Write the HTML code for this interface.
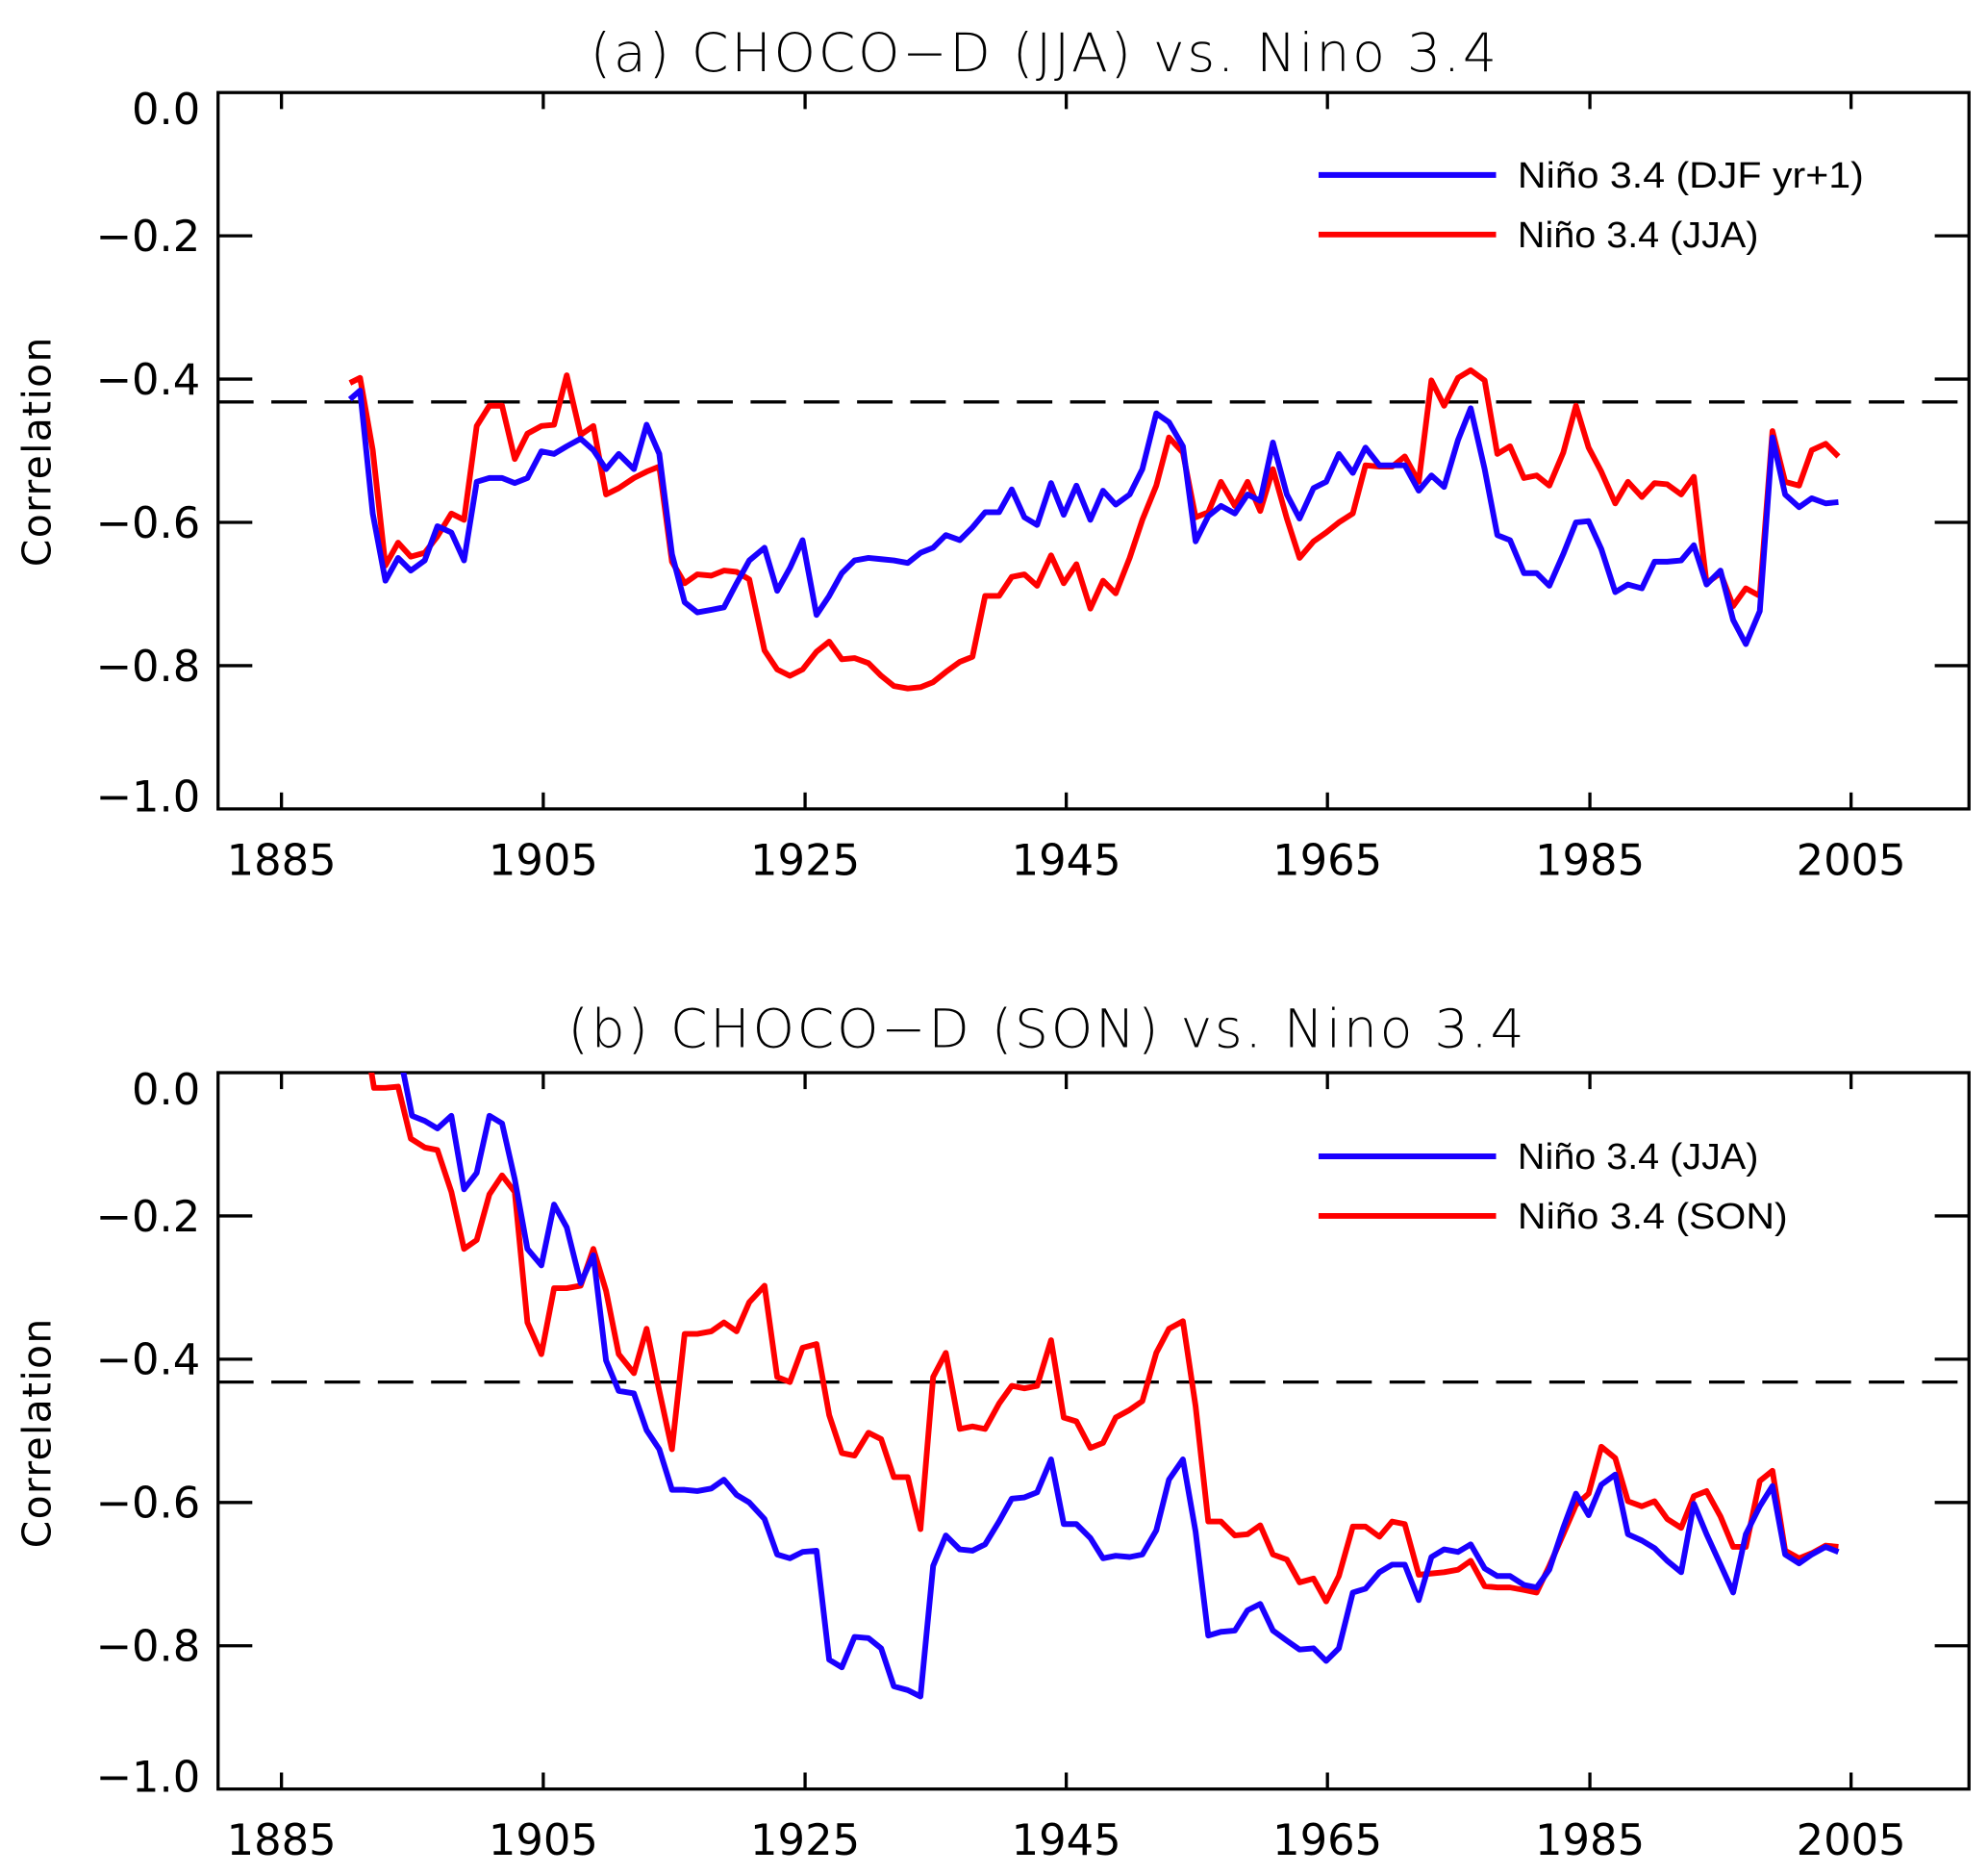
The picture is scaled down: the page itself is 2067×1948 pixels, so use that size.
<!DOCTYPE html>
<html><head><meta charset="utf-8"><style>
html,body{margin:0;padding:0;background:#fff;}
svg{display:block;}
text{font-family:"DejaVu Sans","Liberation Sans",sans-serif;fill:#000;}
.leg{font-family:"Liberation Sans","DejaVu Sans",sans-serif;}
</style></head><body>
<svg width="2067" height="1948" viewBox="0 0 1568 1478" preserveAspectRatio="none" xmlns="http://www.w3.org/2000/svg">
<defs>
<clipPath id="ca"><rect x="172" y="73" width="1381" height="565"/></clipPath>
<clipPath id="cb"><rect x="172" y="846" width="1381" height="565"/></clipPath>
</defs>
<rect width="1568" height="1478" fill="#fff"/>

<!-- Panel a -->
<text x="824" y="56" font-size="42" text-anchor="middle" font-weight="300" letter-spacing="2">(a) CHOCO−D (JJA) vs. Nino 3.4</text>
<g stroke="#000" stroke-width="2.5" fill="none">
<rect x="172" y="73" width="1381" height="565"/>
<path d="M222,73v13M428.5,73v13M635,73v13M841,73v13M1047,73v13M1254,73v13M1460,73v13
M222,638v-13M428.5,638v-13M635,638v-13M841,638v-13M1047,638v-13M1254,638v-13M1460,638v-13
M172,186h27M172,299h27M172,412h27M172,525h27
M1553,186h-27M1553,299h-27M1553,412h-27M1553,525h-27"/>
</g>
<line x1="172" y1="317" x2="1553" y2="317" stroke="#000" stroke-width="2.5" stroke-dasharray="28,14"/>
<g font-size="34" text-anchor="end">
<text x="158" y="98">0.0</text><text x="158" y="198">−0.2</text><text x="158" y="311">−0.4</text>
<text x="158" y="424">−0.6</text><text x="158" y="537">−0.8</text><text x="158" y="640">−1.0</text>
</g>
<g font-size="34" text-anchor="middle">
<text x="222" y="690">1885</text><text x="428.5" y="690">1905</text><text x="635" y="690">1925</text>
<text x="841" y="690">1945</text><text x="1047" y="690">1965</text><text x="1254" y="690">1985</text><text x="1460" y="690">2005</text>
</g>
<text transform="translate(40,356) rotate(-90)" font-size="31" text-anchor="middle" letter-spacing="1">Correlation</text>
<g clip-path="url(#ca)" fill="none" stroke-width="4.5" stroke-linejoin="round">
<polyline stroke="#ff0000" points="276,302 284,298 294,355 304,446 314,428 324,439 335,436 345,423 356,405 366,410 376,336 386,320 396,320 406,362 416,342 427,336 437,335 447,296 458,343 468,336 478,390 488,385 500,377 510,372 520,368 530,443 540,460 550,453 561,454 571,450 581,451 591,457 603,513 613,528 623,533 633,528 644,514 654,506 664,520 674,519 685,523 695,533 705,541 716,543 726,542 736,538 746,530 757,522 767,518 777,470 788,470 798,455 808,453 818,462 829,438 839,460 849,445 860,480 870,458 880,468 891,440 901,410 912,383 922,345 933,357 943,408 953,404 963,380 974,399 984,380 994,403 1004,370 1015,409 1025,440 1036,427 1046,420 1056,412 1067,405 1077,367 1088,368 1098,368 1108,360 1119,380 1129,300 1139,320 1150,298 1160,292 1171,300 1181,358 1191,352 1202,377 1212,375 1222,383 1233,357 1243,320 1253,353 1263,372 1274,397 1284,380 1295,392 1305,381 1315,382 1326,390 1336,376 1346,460 1357,452 1367,478 1377,464 1388,470 1398,340 1408,380 1419,383 1429,355 1440,350 1450,360"/>
<polyline stroke="#1a00ff" points="276,315 284,308 294,405 304,458 314,440 324,450 335,442 345,415 356,420 366,442 376,380 386,377 396,377 406,381 416,377 427,356 437,358 447,352 458,346 468,355 478,370 488,358 500,370 510,335 520,358 530,437 540,475 550,483 561,481 571,479 581,460 591,442 603,432 613,466 623,448 633,426 644,485 654,470 664,452 674,442 685,440 695,441 705,442 716,444 726,436 736,432 746,422 757,426 767,416 777,404 788,404 798,386 808,408 818,414 829,381 839,406 849,383 860,410 870,387 880,398 891,390 901,370 912,326 922,333 933,352 943,427 953,407 963,399 974,405 984,390 994,395 1004,349 1015,390 1025,409 1036,385 1046,380 1056,358 1067,373 1077,353 1088,367 1098,367 1108,367 1119,387 1129,375 1139,384 1150,347 1160,322 1171,370 1181,422 1191,426 1202,452 1212,452 1222,462 1233,437 1243,412 1253,411 1263,433 1274,467 1284,461 1295,464 1305,443 1315,443 1326,442 1336,430 1346,461 1357,450 1367,489 1377,508 1388,482 1398,345 1408,390 1419,400 1429,393 1440,397 1450,396"/>
</g>
<line x1="1040" y1="138" x2="1180" y2="138" stroke="#1a00ff" stroke-width="4.5"/>
<line x1="1040" y1="185" x2="1180" y2="185" stroke="#ff0000" stroke-width="4.5"/>
<text class="leg" x="1197" y="148" font-size="29" textLength="273" lengthAdjust="spacingAndGlyphs">Niño 3.4 (DJF yr+1)</text>
<text class="leg" x="1197" y="195" font-size="29" textLength="190" lengthAdjust="spacingAndGlyphs">Niño 3.4 (JJA)</text>

<!-- Panel b -->
<text x="826" y="826" font-size="42" text-anchor="middle" font-weight="300" letter-spacing="2">(b) CHOCO−D (SON) vs. Nino 3.4</text>
<g stroke="#000" stroke-width="2.5" fill="none">
<rect x="172" y="846" width="1381" height="565"/>
<path d="M222,846v13M428.5,846v13M635,846v13M841,846v13M1047,846v13M1254,846v13M1460,846v13
M222,1411v-13M428.5,1411v-13M635,1411v-13M841,1411v-13M1047,1411v-13M1254,1411v-13M1460,1411v-13
M172,959h27M172,1072h27M172,1185h27M172,1298h27
M1553,959h-27M1553,1072h-27M1553,1185h-27M1553,1298h-27"/>
</g>
<line x1="172" y1="1090" x2="1553" y2="1090" stroke="#000" stroke-width="2.5" stroke-dasharray="28,14"/>
<g font-size="34" text-anchor="end">
<text x="158" y="871">0.0</text><text x="158" y="971">−0.2</text><text x="158" y="1084">−0.4</text>
<text x="158" y="1197">−0.6</text><text x="158" y="1310">−0.8</text><text x="158" y="1413">−1.0</text>
</g>
<g font-size="34" text-anchor="middle">
<text x="222" y="1463">1885</text><text x="428.5" y="1463">1905</text><text x="635" y="1463">1925</text>
<text x="841" y="1463">1945</text><text x="1047" y="1463">1965</text><text x="1254" y="1463">1985</text><text x="1460" y="1463">2005</text>
</g>
<text transform="translate(40,1130) rotate(-90)" font-size="31" text-anchor="middle" letter-spacing="1">Correlation</text>
<g clip-path="url(#cb)" fill="none" stroke-width="4.5" stroke-linejoin="round">
<polyline stroke="#ff0000" points="292,840 295,858 304,858 314,857 324,898 335,905 345,907 356,940 366,985 376,978 386,942 396,927 406,940 416,1043 427,1068 437,1016 447,1016 458,1014 468,985 478,1018 488,1068 500,1083 510,1048 520,1097 530,1143 540,1052 550,1052 561,1050 571,1043 581,1050 591,1027 603,1014 613,1086 623,1090 633,1063 644,1060 654,1116 664,1146 674,1148 685,1130 695,1135 705,1165 716,1165 726,1206 736,1086 746,1067 757,1127 767,1125 777,1127 788,1107 798,1093 808,1095 818,1093 829,1057 839,1118 849,1121 860,1142 870,1138 880,1118 891,1112 901,1105 912,1067 922,1048 933,1042 943,1109 953,1200 963,1200 974,1211 984,1210 994,1203 1004,1226 1015,1230 1025,1248 1036,1245 1046,1263 1056,1243 1067,1204 1077,1204 1088,1212 1098,1200 1108,1202 1119,1242 1129,1241 1139,1240 1150,1238 1160,1231 1171,1251 1181,1252 1191,1252 1202,1254 1212,1256 1222,1235 1233,1210 1243,1187 1253,1178 1263,1141 1274,1150 1284,1184 1295,1188 1305,1184 1315,1198 1326,1205 1336,1180 1346,1176 1357,1196 1367,1220 1377,1220 1388,1168 1398,1160 1408,1223 1419,1229 1429,1225 1440,1219 1450,1220"/>
<polyline stroke="#1a00ff" points="308,830 318,845 325,880 335,884 345,890 356,880 366,938 376,925 386,880 396,886 406,930 416,985 427,998 437,950 447,968 458,1012 468,990 478,1073 488,1097 500,1099 510,1128 520,1143 530,1175 540,1175 550,1176 561,1174 571,1167 581,1179 591,1185 603,1198 613,1226 623,1229 633,1224 644,1223 654,1309 664,1315 674,1291 685,1292 695,1300 705,1330 716,1333 726,1338 736,1235 746,1211 757,1222 767,1223 777,1218 788,1200 798,1182 808,1181 818,1177 829,1151 839,1202 849,1202 860,1213 870,1229 880,1227 891,1228 901,1226 912,1207 922,1167 933,1151 943,1208 953,1290 963,1287 974,1286 984,1270 994,1265 1004,1286 1015,1294 1025,1301 1036,1300 1046,1310 1056,1300 1067,1256 1077,1253 1088,1240 1098,1234 1108,1234 1119,1262 1129,1228 1139,1222 1150,1224 1160,1218 1171,1237 1181,1243 1191,1243 1202,1250 1212,1252 1222,1238 1233,1205 1243,1178 1253,1195 1263,1171 1274,1163 1284,1210 1295,1215 1305,1221 1315,1231 1326,1240 1336,1186 1346,1210 1357,1234 1367,1256 1377,1210 1388,1188 1398,1172 1408,1226 1419,1233 1429,1226 1440,1220 1450,1224"/>
</g>
<line x1="1040" y1="912" x2="1180" y2="912" stroke="#1a00ff" stroke-width="4.5"/>
<line x1="1040" y1="959" x2="1180" y2="959" stroke="#ff0000" stroke-width="4.5"/>
<text class="leg" x="1197" y="922" font-size="29" textLength="190" lengthAdjust="spacingAndGlyphs">Niño 3.4 (JJA)</text>
<text class="leg" x="1197" y="969" font-size="29" textLength="213" lengthAdjust="spacingAndGlyphs">Niño 3.4 (SON)</text>
</svg>
</body></html>
